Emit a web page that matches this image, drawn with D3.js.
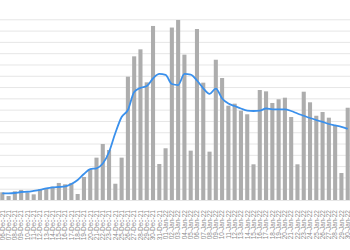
<!DOCTYPE html>
<html>
<head>
<meta charset="utf-8">
<script src="https://cdn.jsdelivr.net/npm/d3@7"></script>
<style>
  body { margin: 0; background: #fff; overflow: hidden; }
  svg { display: block; font-family: "Liberation Sans", Arial, sans-serif; }
</style>
</head>
<body>
<svg id="chart"></svg>
<script>
var dates = ["06-Dec-21", "07-Dec-21", "08-Dec-21", "09-Dec-21", "10-Dec-21", "11-Dec-21", "12-Dec-21",
  "13-Dec-21", "14-Dec-21", "15-Dec-21", "16-Dec-21", "17-Dec-21", "18-Dec-21", "19-Dec-21", "20-Dec-21",
  "21-Dec-21", "22-Dec-21", "23-Dec-21", "24-Dec-21", "25-Dec-21", "26-Dec-21", "27-Dec-21", "28-Dec-21",
  "29-Dec-21", "30-Dec-21", "31-Dec-21", "01-Jan-22", "02-Jan-22", "03-Jan-22", "04-Jan-22", "05-Jan-22",
  "06-Jan-22", "07-Jan-22", "08-Jan-22", "09-Jan-22", "10-Jan-22", "11-Jan-22", "12-Jan-22", "13-Jan-22",
  "14-Jan-22", "15-Jan-22", "16-Jan-22", "17-Jan-22", "18-Jan-22", "19-Jan-22", "20-Jan-22", "21-Jan-22",
  "22-Jan-22", "23-Jan-22", "24-Jan-22", "25-Jan-22", "26-Jan-22", "27-Jan-22", "28-Jan-22", "29-Jan-22",
  "30-Jan-22"];

// daily counts (bars)
var daily = [68, 35, 77, 89, 65, 50, 95, 104, 118, 151, 139, 151, 53, 204, 272, 375, 496, 443, 144, 375,
  1092, 1272, 1334, 1042, 1541, 319, 458, 1527, 1594, 1287, 437, 1514, 1039, 428, 1242, 1080, 835, 853,
  791, 759, 316, 974, 962, 859, 892, 906, 735, 316, 959, 865, 746, 779, 729, 658, 239, 817];

// rolling average (line)
var average = [59, 59, 62, 71, 73, 80, 89, 102, 111, 115, 120, 142, 177, 230, 274, 281, 323, 425, 593, 735,
  797, 956, 993, 1009, 1076, 1116, 1107, 1027, 1018, 1116, 1111, 1058, 989, 939, 987, 899, 854, 832, 810,
  792, 788, 791, 810, 803, 803, 803, 788, 766, 746, 726, 708, 691, 673, 660, 648, 629];

var yTicks = [0, 100, 200, 300, 400, 500, 600, 700, 800, 900, 1000, 1100, 1200, 1300, 1400, 1500, 1600];

renderChart();

function renderChart(){
  var width = 350, height = 250;
  var svg = d3.select('#chart')
              .attr('width', width)
              .attr('height', height);

  var x = d3.scaleBand()
            .domain(dates)
            .range([-0.84, 350.84])
            .paddingInner(0.35)
            .paddingOuter(0.175);

  var y = d3.scaleLinear()
            .domain([0, 1600])
            .range([200, 19.3]);

  // gridlines only, the value labels sit outside the crop
  var grid = svg.append('g')
                .call(d3.axisLeft(y).tickValues(yTicks).tickSize(-width).tickFormat(''));
  grid.select('.domain').remove();
  grid.selectAll('.tick line').attr('stroke', '#e6e6e6').attr('stroke-width', 1);

  svg.append('g')
     .selectAll('rect')
     .data(daily)
     .enter()
     .append('rect')
     .attr('x', (d, i) => x(dates[i]))
     .attr('y', d => y(d))
     .attr('width', x.bandwidth())
     .attr('height', d => y(0) - y(d))
     .attr('fill', '#adadad');

  var line = d3.line()
               .x((d, i) => x(dates[i]) + x.bandwidth() / 2)
               .y(d => y(d))
               .curve(d3.curveMonotoneX);

  svg.append('path')
     .datum(average)
     .attr('d', line)
     .attr('fill', 'none')
     .attr('stroke', '#3a90ec')
     .attr('stroke-width', 1.8);

  var xAxis = svg.append('g')
                 .attr('transform', 'translate(0,208)')
                 .call(d3.axisBottom(x).tickSize(0));
  xAxis.select('.domain').remove();
  xAxis.selectAll('text')
       .attr('transform', 'rotate(-90)')
       .attr('text-anchor', 'end')
       .attr('x', -2)
       .attr('y', 0)
       .attr('dy', '0.35em')
       .attr('fill', '#8a8a8a')
       .style('font-size', '6.5px');
}
</script>
</body>
</html>
